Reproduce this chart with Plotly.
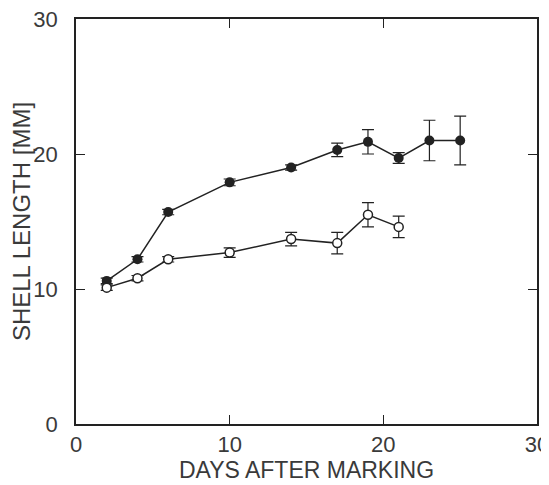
import plotly.graph_objects as go

days_filled = [2, 4, 6, 10, 14, 17, 19, 21, 23, 25]
len_filled = [10.6, 12.2, 15.7, 17.9, 19.0, 20.3, 20.9, 19.7, 21.0, 21.0]
err_filled = [0.2, 0.2, 0.2, 0.25, 0.2, 0.5, 0.9, 0.4, 1.5, 1.8]

days_open = [2, 4, 6, 10, 14, 17, 19, 21]
len_open = [10.1, 10.8, 12.2, 12.7, 13.7, 13.4, 15.5, 14.6]
err_open = [0.2, 0.2, 0.2, 0.35, 0.5, 0.8, 0.9, 0.8]

x_ticks = [0, 10, 20, 30]
y_ticks = [0, 10, 20, 30]

ink = "#222222"
txt = "#3a3a3a"
fam = "Liberation Sans, Arial, sans-serif"
fig = go.Figure()
fig.add_trace(go.Scatter(
    x=days_filled, y=len_filled, mode="lines+markers",
    line=dict(color=ink, width=1.5),
    marker=dict(symbol="circle", size=10, color=ink),
    error_y=dict(type="data", array=err_filled, color=ink, thickness=1.2, width=6),
    showlegend=False))
fig.add_trace(go.Scatter(
    x=days_open, y=len_open, mode="lines+markers",
    line=dict(color=ink, width=1.5),
    marker=dict(symbol="circle", size=9, color="white", line=dict(color=ink, width=1.5)),
    error_y=dict(type="data", array=err_open, color=ink, thickness=1.2, width=6),
    showlegend=False))

axis_common = dict(
    showgrid=False, zeroline=False, showline=True, linecolor=ink, linewidth=1.5,
    mirror="ticks", ticks="inside", ticklen=9, tickwidth=1.2, tickcolor=ink,
    tickfont=dict(family=fam, size=22, color=txt), automargin=False,
    ticklabeloverflow="allow",
)
fig.update_xaxes(range=[0, 30], tickvals=x_ticks, ticktext=[str(v) for v in x_ticks],
                 title=dict(text="DAYS AFTER MARKING", standoff=0,
                            font=dict(family=fam, size=23, color=txt)),
                 **axis_common)
fig.update_yaxes(range=[0, 30], tickvals=y_ticks, ticktext=[str(v) for v in y_ticks],
                 ticklabelstandoff=12,
                 title=dict(text="SHELL LENGTH [MM]", standoff=8,
                            font=dict(family=fam, size=24, color=txt)),
                 **axis_common)
fig.update_layout(
    width=541, height=477, margin=dict(l=68, r=12, t=11, b=61),
    plot_bgcolor="white", paper_bgcolor="white",
)
fig.write_html("out.html")
